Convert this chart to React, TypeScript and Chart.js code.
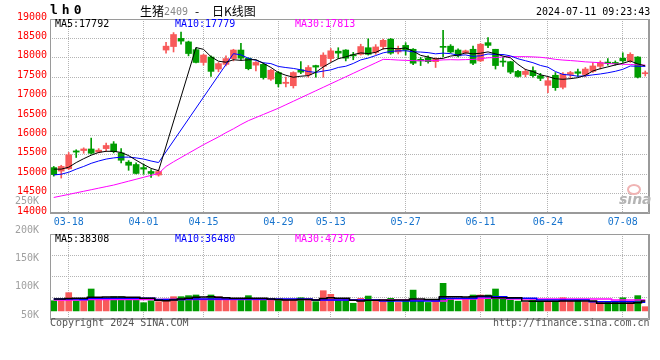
import React, { useEffect, useRef } from 'react';
import { Chart, registerables } from 'chart.js';

Chart.register(...registerables);

// ---------- data ----------
const DATES = [
  '03-14','03-15','03-18','03-19','03-20','03-21','03-22','03-25','03-26','03-27','03-28','03-29',
  '04-01','04-02','04-03','04-08','04-09','04-10','04-11','04-12','04-15','04-16','04-17','04-18','04-19',
  '04-22','04-23','04-24','04-25','04-26','04-29','04-30',
  '05-06','05-07','05-08','05-09','05-10','05-13','05-14','05-15','05-16','05-17','05-20','05-21','05-22',
  '05-23','05-24','05-27','05-28','05-29','05-30','05-31',
  '06-03','06-04','06-05','06-06','06-07','06-11','06-12','06-13','06-14','06-17','06-18','06-19','06-20',
  '06-21','06-24','06-25','06-26','06-27','06-28',
  '07-01','07-02','07-03','07-04','07-05','07-08','07-09','07-10','07-11',
];
const TICK_DATES = ['03-18','04-01','04-15','04-29','05-13','05-27','06-11','06-24','07-08'];

const OPEN = [
  15170,15080,15140,15600,15610,15650,15570,15660,15780,15550,15310,15250,15170,15070,14980,
  18200,18290,18500,18410,18210,17880,18020,17710,17830,17980,18200,17990,17810,17830,17450,
  17620,17340,17280,17690,17560,17800,17780,17980,18170,18200,18080,18090,18260,18140,18290,
  18480,18150,18320,18220,17960,18000,17900,18290,18300,18200,18130,18220,17920,18390,18220,
  17900,17900,17650,17570,17670,17540,17290,17550,17240,17570,17640,17570,17650,17780,17890,
  17880,17990,17920,18020,17590,
];
const HIGH = [
  15200,15230,15560,15630,15680,15930,15660,15800,15840,15660,15350,15290,15260,15120,15110,
  18400,18650,18660,18430,18260,18090,18050,17880,18050,18220,18370,18000,17900,17870,17700,
  17650,17500,17640,17900,17800,17810,18130,18240,18260,18210,18140,18350,18490,18340,18480,
  18500,18300,18390,18240,18010,18050,18000,18710,18340,18230,18200,18300,18370,18520,18220,
  18010,17910,17680,17710,17770,17600,17510,17620,17620,17650,17710,17750,17880,17920,17980,
  17920,18130,18130,18030,17660,
];
const LOW = [
  14950,14900,15120,15430,15540,15520,15550,15590,15550,15290,15100,15010,15000,14920,14950,
  18120,18150,18350,18050,17870,17810,17520,17640,17790,17920,17940,17690,17660,17450,17420,
  17250,17250,17220,17590,17500,17500,17500,17900,17980,17920,17950,18070,18070,18090,18220,
  18090,18100,18070,17820,17800,17860,17750,18030,18130,18020,18100,17820,17900,18260,17710,
  17780,17590,17500,17510,17500,17410,17100,17160,17200,17460,17520,17510,17620,17710,17810,
  17810,17880,17880,17480,17530,
];
const CLOSE = [
  14990,15200,15500,15570,15650,15540,15620,15740,15580,15360,15230,15020,15130,15020,15070,
  18300,18600,18430,18110,17880,18070,17650,17850,17980,18200,17990,17720,17880,17490,17680,
  17330,17370,17620,17630,17750,17760,18070,18180,18120,17990,18050,18290,18090,18280,18450,
  18120,18220,18200,17860,17920,17900,17980,18270,18150,18050,18180,17860,18350,18320,17800,
  17890,17630,17520,17650,17540,17470,17410,17230,17580,17620,17600,17710,17790,17880,17850,
  17850,17920,18090,17500,17600,
];

const MA5 = [
  15130,15130,15180,15300,15400,15490,15560,15590,15590,15560,15480,15360,15250,15150,15090,
  null,null,null,null,18264,18218,18028,17912,17886,17950,17934,17948,17954,17856,17752,
  17620,17550,17498,17526,17540,17626,17766,17878,17976,18024,18082,18126,18108,18140,18232,
  18246,18232,18254,18170,18064,18020,17972,17986,18044,18070,18126,18102,18118,18152,18102,
  18044,17998,17832,17698,17646,17562,17518,17460,17446,17462,17488,17548,17660,17720,17766,
  17816,17858,17918,17842,17792,
];
const MA10 = [
  14980,15000,15050,15130,15200,15280,15340,15390,15420,15440,15440,15420,15390,15340,15300,
  null,null,null,null,null,null,null,null,null,18107,18076,17988,17933,17871,17851,
  17777,17749,17726,17691,17646,17623,17658,17688,17751,17782,17854,17946,17993,18058,18128,
  18164,18179,18181,18155,18148,18133,18102,18120,18107,18067,18073,18037,18052,18098,18086,
  18085,18050,17975,17925,17874,17803,17758,17646,17572,17554,17525,17533,17560,17583,17614,
  17652,17703,17789,17781,17779,
];
const MA30 = [
  14400,14440,14480,14520,14560,14600,14640,14680,14720,14770,14820,14870,14920,14970,15020,
  15200,15320,15430,15540,15650,15760,15860,15960,16070,16170,16280,16380,16460,16540,16620,
  16700,16790,16880,16970,17060,17150,17240,17330,17420,17510,17600,17690,17780,17870,17960,
  17954,17942,17934,17926,17927,17921,17932,17946,17952,17947,17953,17958,17974,18001,18005,
  18024,18033,18029,18030,18023,18013,17991,17960,17942,17929,17914,17895,17885,17872,17852,
  17843,17833,17829,17817,17813,
];

const VOLUME = [
  43000,43000,62000,43000,43000,70600,48700,48700,52500,52500,
  48700,46000,38400,43000,40800,47000,52500,52500,54900,56500,
  47000,56500,52500,48700,47000,47000,54900,48700,48700,47000,
  44700,44700,44700,50000,47000,40800,66600,58000,44000,46000,
  37000,48700,54000,42000,42000,48700,39000,42000,68000,42000,
  39000,42000,84000,47000,42000,47000,56500,56500,56500,70600,
  47000,44700,42000,39000,44700,40800,42000,42000,50000,42000,
  44700,40800,40800,40800,40800,40800,50000,42000,55000,29000,
];
const VOL_MA5 = [
  47000,47000,48000,48700,48700,51000,51000,52000,52000,52000,
  51000,51000,49000,48700,44000,43000,44700,47000,48700,51000,
  52000,52500,51000,50000,49000,48700,48700,48700,49000,47000,
  46000,45000,45000,46000,46000,45000,48000,50000,48700,48700,
  44000,42400,44000,44000,45000,44000,45000,45000,47000,47000,
  46000,46000,52500,52500,52500,52000,52500,54000,54000,50200,
  50000,50000,50000,42400,42000,42000,42000,42000,42400,42400,
  42400,42400,42400,37000,37000,37000,37000,37000,38000,42400,
];
const VOL_MA10 = [
  47000,47000,47000,47000,46000,48700,48700,48700,48700,48700,
  48700,48700,48700,48700,46000,46000,46000,46000,47000,47000,
  47000,47000,47000,47000,47000,47000,47000,47000,47000,47000,
  47000,47000,47000,47000,47000,45000,45000,45000,45000,45000,
  45000,44700,44700,44700,42400,42400,42400,42400,42400,42400,
  42400,42400,48700,48700,48700,48700,48700,52500,52500,52500,
  52500,48700,48700,48700,48700,44700,44700,44700,44700,44700,
  44700,44700,40800,40800,40800,40800,40800,40800,39200,39200,
];
const VOL_MA30 = [
  44700,44700,44700,44700,44700,46000,46000,46000,46000,46000,
  46000,46000,46000,46000,46000,46000,46000,46000,46000,46000,
  46000,46000,46000,46000,46000,46000,46000,46000,46000,46000,
  46000,46000,46000,46000,46000,44700,44700,44700,44700,44700,
  44700,44700,44700,44700,44700,44700,44700,44700,44700,44700,
  44700,42400,42400,47100,47100,47100,47100,48700,48700,48700,
  48700,47100,47100,47100,47100,47100,47100,47100,47100,47100,
  47100,47100,47100,47100,47100,44700,44700,44700,44700,44700,
];

const PRICE_MIN = 14000;
const PRICE_MAX = 19000;
const PRICE_STEP = 500;
const VOL_MAX = 200000;
const VOL_STEP = 50000;
const VOL_FLOOR = 19000;
const VOL_LABELS = [250000, 200000, 150000, 100000, 50000];
const VOL_LABEL_MIN = 42900;
const VOL_LABEL_MAX = 193100;

const PRICE_LEGEND = [
  { text: 'MA5:17792', color: '#000000' },
  { text: 'MA10:17779', color: '#0000ff' },
  { text: 'MA30:17813', color: '#ff00ff' },
];
const VOL_LEGEND = [
  { text: 'MA5:38308', color: '#000000' },
  { text: 'MA10:36480', color: '#0000ff' },
  { text: 'MA30:47376', color: '#ff00ff' },
];

// ---------- style ----------
const MONO = '"DejaVu Sans Mono", "Liberation Mono", monospace';
const CJK = '"Noto Sans CJK SC", "Noto Sans", sans-serif';
const UP = '#f85a5a';
const DOWN = '#009c00';
const GRID = '#b4b4b4';
const FRAME = '#9a9a9a';

const candleColors = CLOSE.map((c, i) => (c >= OPEN[i] ? UP : DOWN));

const framePlugin = {
  id: 'frame',
  afterDraw(chart: any) {
    const { ctx, chartArea: a } = chart;
    const l = Math.round(a.left), t = Math.round(a.top);
    const r = Math.round(a.right), b = Math.round(a.bottom);
    ctx.save();
    ctx.strokeStyle = FRAME;
    ctx.lineWidth = 1;
    ctx.beginPath();
    ctx.moveTo(l + 0.5, b);
    ctx.lineTo(l + 0.5, t + 0.5);
    ctx.lineTo(r - 0.5, t + 0.5);
    ctx.lineTo(r - 0.5, b - 0.5);
    ctx.lineTo(l, b - 0.5);
    ctx.stroke();
    ctx.beginPath();
    ctx.moveTo(r + 0.5, t);
    ctx.lineTo(r + 0.5, b + 1);
    ctx.moveTo(l, b + 0.5);
    ctx.lineTo(r + 1, b + 0.5);
    ctx.stroke();
    ctx.restore();
  },
};

const lineDs = (data: (number | null)[], color: string, width: number, order: number, stepped: any = false) => ({
  type: 'line' as const,
  data,
  borderColor: color,
  borderWidth: width,
  pointRadius: 0,
  spanGaps: true,
  tension: 0,
  stepped,
  order,
  xAxisID: 'x',
  yAxisID: 'y',
});

const xScale = (showLabels: boolean, height: number) => ({
  type: 'category' as const,
  offset: true,
  grid: { offset: false, color: GRID, lineWidth: 1, drawTicks: false },
  border: { display: false, dash: [1, 1] },
  ticks: {
    display: showLabels,
    autoSkip: false,
    maxRotation: 0,
    color: '#1874cd',
    font: { family: MONO, size: 10 },
    padding: 3,
  },
  afterBuildTicks: (s: any) => {
    s.ticks = s.ticks.filter((t: any) => TICK_DATES.includes(DATES[t.value]));
  },
  afterFit: (s: any) => {
    s.height = height;
  },
});

function mainConfig(): any {
  return {
    type: 'bar',
    data: {
      labels: DATES,
      datasets: [
        lineDs(MA5, '#000000', 1, 1),
        lineDs(MA10, '#0000ff', 1, 2),
        lineDs(MA30, '#ff00ff', 1, 3),
        {
          type: 'bar',
          data: DATES.map((_, i) => [OPEN[i], CLOSE[i]]),
          backgroundColor: candleColors,
          borderWidth: 0,
          barThickness: 6,
          minBarLength: 1,
          grouped: false,
          order: 5,
          xAxisID: 'x',
          yAxisID: 'y',
        },
        {
          type: 'bar',
          data: DATES.map((_, i) => [LOW[i], HIGH[i]]),
          backgroundColor: candleColors,
          borderWidth: 0,
          barThickness: 1,
          grouped: false,
          order: 6,
          xAxisID: 'x',
          yAxisID: 'y',
        },
      ],
    },
    options: {
      responsive: false,
      animation: false,
      devicePixelRatio: 1,
      events: [],
      layout: { padding: { top: 19, right: 11, left: 0, bottom: 0 } },
      plugins: { legend: { display: false }, tooltip: { enabled: false } },
      scales: {
        x: xScale(true, 19),
        y: {
          type: 'linear',
          min: PRICE_MIN,
          max: PRICE_MAX,
          grid: { color: GRID, lineWidth: 1, drawTicks: false },
          border: { display: false, dash: [1, 1] },
          ticks: {
            stepSize: PRICE_STEP,
            color: '#ff0000',
            font: { family: MONO, size: 10 },
            padding: 3,
            labelOffset: -2,
            callback: (v: any) => String(v),
          },
          afterFit: (s: any) => {
            s.width = 50;
          },
        },
      },
    },
    plugins: [framePlugin],
  };
}

function volConfig(): any {
  const stepped = 'middle';
  return {
    type: 'bar',
    data: {
      labels: DATES,
      datasets: [
        lineDs(VOL_MA5, '#000000', 1.5, 1, stepped),
        lineDs(VOL_MA10, '#0000ff', 1.5, 2, stepped),
        lineDs(VOL_MA30, '#ff00ff', 1.5, 3, stepped),
        {
          type: 'bar',
          data: VOLUME,
          base: VOL_FLOOR,
          backgroundColor: candleColors,
          borderWidth: 0,
          barThickness: 6,
          grouped: false,
          order: 5,
          xAxisID: 'x',
          yAxisID: 'y',
        },
      ],
    },
    options: {
      responsive: false,
      animation: false,
      devicePixelRatio: 1,
      events: [],
      layout: { padding: { top: 44, right: 11, left: 0, bottom: 0 } },
      plugins: { legend: { display: false }, tooltip: { enabled: false } },
      scales: {
        x: xScale(false, 26),
        yl: {
          type: 'linear',
          position: 'left',
          min: VOL_LABEL_MIN,
          max: VOL_LABEL_MAX,
          grid: { display: false },
          border: { display: false },
          ticks: {
            autoSkip: false,
            color: '#a0a0a0',
            font: { family: MONO, size: 10 },
            padding: 3,
            callback: (v: any) => `${Math.round(v / 1000)}K`,
          },
          afterBuildTicks: (s: any) => {
            s.ticks = VOL_LABELS.map((v) => ({ value: v }));
          },
          afterFit: (s: any) => {
            s.width = 50;
          },
        },
        y: {
          type: 'linear',
          position: 'left',
          min: 0,
          max: VOL_MAX,
          grid: { color: GRID, lineWidth: 1, drawTicks: false },
          border: { display: false, dash: [1, 1] },
          ticks: { display: false, stepSize: VOL_STEP },
          afterFit: (s: any) => {
            s.width = 0;
          },
        },
      },
    },
    plugins: [framePlugin],
  };
}

const abs = (left: number, top: number, color: string, extra: any = {}): any => ({
  position: 'absolute',
  left,
  top,
  color,
  font: `10px ${MONO}`,
  lineHeight: '12px',
  whiteSpace: 'pre',
  ...extra,
});

export default function App() {
  const mainRef = useRef<HTMLCanvasElement>(null);
  const volRef = useRef<HTMLCanvasElement>(null);

  useEffect(() => {
    const main = new Chart(mainRef.current as HTMLCanvasElement, mainConfig());
    const vol = new Chart(volRef.current as HTMLCanvasElement, volConfig());
    return () => {
      main.destroy();
      vol.destroy();
    };
  }, []);

  const legendX = [55, 175, 295];

  return (
    <div style={{ position: 'absolute', left: 0, top: 0, width: 660, height: 360, background: '#ffffff', overflow: 'hidden' }}>
      <canvas ref={mainRef} width={660} height={232} style={{ position: 'absolute', left: 0, top: 0, width: 660, height: 232 }} />
      <canvas ref={volRef} width={660} height={155} style={{ position: 'absolute', left: 0, top: 190, width: 660, height: 155 }} />

      <div style={abs(50, 2, '#000', { font: `bold 13px ${MONO}`, lineHeight: '16px', letterSpacing: '4px' })}>lh0</div>
      <div style={abs(140, 3, '#000', { font: `12px ${CJK}`, lineHeight: '16px' })}>生猪</div>
      <div style={abs(164, 6, '#888', {})}>2409</div>
      <div style={abs(195, 3, '#000', { font: `12px ${CJK}`, lineHeight: '16px' })}>-</div>
      <div style={abs(212, 3, '#000', { font: `12px ${CJK}`, lineHeight: '16px' })}>日K线图</div>
      <div style={abs(536, 6, '#000')}>2024-07-11 09:23:43</div>

      {PRICE_LEGEND.map((l, i) => (
        <div key={'p' + i} style={abs(legendX[i], 18, l.color)}>{l.text}</div>
      ))}
      {VOL_LEGEND.map((l, i) => (
        <div key={'v' + i} style={abs(legendX[i], 233, l.color)}>{l.text}</div>
      ))}

      <div style={abs(619, 191, '#b4b4b4', { font: `italic bold 14px "DejaVu Sans", sans-serif`, lineHeight: '16px' })}>sina</div>
      <div style={{ position: 'absolute', left: 627, top: 184, width: 10, height: 7, borderRadius: '50%', border: '2px solid #f0b4b4' }} />

      <div style={abs(50, 317, '#555')}>Copyright 2024 SINA.COM</div>
      <div style={abs(493, 317, '#555')}>http://finance.sina.com.cn</div>
    </div>
  );
}
